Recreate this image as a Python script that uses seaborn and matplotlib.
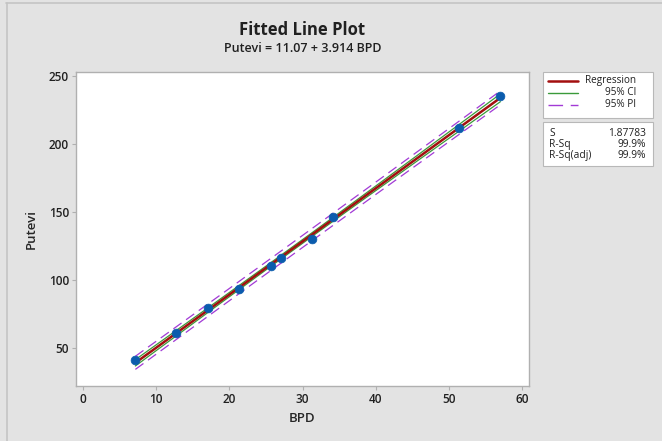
import numpy as np
import pandas as pd
import matplotlib
matplotlib.use("Agg")
import matplotlib.pyplot as plt
from matplotlib.patches import Rectangle
from matplotlib.lines import Line2D
import seaborn as sns

# values
bpd = [7.2, 12.8, 17.1, 21.4, 25.7, 27.1, 31.3, 34.2, 51.4, 57.0]
putevi = [40.9, 60.8, 79.0, 93.0, 110.1, 116.3, 129.8, 146.2, 212.0, 235.5]
x_ticks = [0, 10, 20, 30, 40, 50, 60]
y_ticks = [50, 100, 150, 200, 250]
title = "Fitted Line Plot"
subtitle = "Putevi = 11.07 + 3.914 BPD"
legend_labels = ["Regression", "95% CI", "95% PI"]
stat_names = ["S", "R-Sq", "R-Sq(adj)"]
stat_values = ["1.87783", "99.9%", "99.9%"]

BG = "#e3e3e3"
RED = "#a30f0f"
GREEN = "#3a9a3a"
PURPLE = "#a23ad6"
BLUE = "#0b5cad"

sns.set_theme(style="white")
plt.rcParams["font.family"] = ["Open Sans", "DejaVu Sans"]

df = pd.DataFrame({"BPD": bpd, "Putevi": putevi})

# least squares fit and 95% bands
x = df["BPD"].to_numpy()
y = df["Putevi"].to_numpy()
n = len(x)
b1, b0 = np.polyfit(x, y, 1)
resid = y - (b0 + b1 * x)
s = np.sqrt((resid ** 2).sum() / (n - 2))
sxx = ((x - x.mean()) ** 2).sum()
t_crit = 2.306  # t(0.975, df=8)

grid = np.linspace(x.min(), x.max(), 200)
fit = b0 + b1 * grid
se_mean = s * np.sqrt(1 / n + (grid - x.mean()) ** 2 / sxx)
se_pred = s * np.sqrt(1 + 1 / n + (grid - x.mean()) ** 2 / sxx)
bands = pd.DataFrame({
    "x": grid, "fit": fit,
    "ci_lo": fit - t_crit * se_mean, "ci_hi": fit + t_crit * se_mean,
    "pi_lo": fit - t_crit * se_pred, "pi_hi": fit + t_crit * se_pred,
})

fig = plt.figure(figsize=(6.62, 4.41), dpi=100, facecolor=BG)
ax = fig.add_axes([76 / 662, 1 - 386 / 441, 453 / 662, 314 / 441])
ax.set_facecolor("white")

for col in ["pi_lo", "pi_hi"]:
    sns.lineplot(data=bands, x="x", y=col, ax=ax, color=PURPLE, lw=0.9,
                 dashes=False, linestyle=(0, (8, 4.5)))
for col in ["ci_lo", "ci_hi"]:
    sns.lineplot(data=bands, x="x", y=col, ax=ax, color=GREEN, lw=0.9)
sns.lineplot(data=bands, x="x", y="fit", ax=ax, color=RED, lw=1.8)
sns.scatterplot(data=df, x="BPD", y="Putevi", ax=ax, color=BLUE, s=40,
                edgecolor=BLUE, linewidth=0.5, zorder=5)

ax.set_xlim(-0.9, 60.9)
ax.set_ylim(21.8, 252.9)
ax.set_xticks(x_ticks)
ax.set_yticks(y_ticks)
ax.tick_params(axis="both", length=3, width=0.8, color="#b0b0b0",
               labelsize=8.5, pad=2, bottom=True, left=True)
for lab in ax.get_xticklabels() + ax.get_yticklabels():
    lab.set_fontweight("semibold")
    lab.set_color("#202020")
for sp in ax.spines.values():
    sp.set_color("#b0b0b0")
    sp.set_linewidth(1.0)
ax.set_xlabel("BPD", fontsize=9.5, fontweight="semibold", labelpad=4)
ax.set_ylabel("Putevi", fontsize=9.5, fontweight="semibold", labelpad=8)

fig.text(302.5 / 662, 1 - 30 / 441, title, ha="center", va="center",
         fontsize=12, fontweight="bold", color="#202020")
fig.text(302.5 / 662, 1 - 49 / 441, subtitle, ha="center", va="center",
         fontsize=9, fontweight="semibold", color="#202020")

# outer frame of the reference picture: only top and left edges show
fig.lines.append(Line2D([6 / 662, 1], [1 - 2.5 / 441] * 2, transform=fig.transFigure,
                        color="#c4c4c4", lw=1.2))
fig.lines.append(Line2D([6.5 / 662] * 2, [0, 1 - 2.5 / 441], transform=fig.transFigure,
                        color="#c4c4c4", lw=1.2))


def px(xp, yp):
    return xp / 662, 1 - yp / 441


# legend box
fig.patches.append(Rectangle(px(543, 118), 110 / 662, 46 / 441, transform=fig.transFigure,
                             facecolor="white", edgecolor="#b8b8b8", lw=0.8))
leg_styles = [(RED, "-", 1.8), (GREEN, "-", 1.0), (PURPLE, (0, (10.5, 5.5)), 1.0)]
for i, (lab, (c, ls, lw)) in enumerate(zip(legend_labels, leg_styles)):
    yy = 80.5 + i * 12
    fig.lines.append(Line2D([548 / 662, 578 / 662], [1 - yy / 441] * 2,
                            transform=fig.transFigure, color=c, ls=ls, lw=lw))
    fig.text(636 / 662, 1 - yy / 441, lab, ha="right", va="center",
             fontsize=7.2, fontweight="medium", color="#202020")

# stats box
fig.patches.append(Rectangle(px(543, 166), 110 / 662, 44 / 441, transform=fig.transFigure,
                             facecolor="white", edgecolor="#b8b8b8", lw=0.8))
for i, (nm, val) in enumerate(zip(stat_names, stat_values)):
    yy = 133.5 + i * 11
    fig.text(549 / 662, 1 - yy / 441, nm, ha="left", va="center",
             fontsize=7.4, fontweight="medium", color="#202020")
    fig.text(646 / 662, 1 - yy / 441, val, ha="right", va="center",
             fontsize=7.4, fontweight="medium", color="#202020")

fig.savefig("out.png", dpi=100, facecolor=BG)
